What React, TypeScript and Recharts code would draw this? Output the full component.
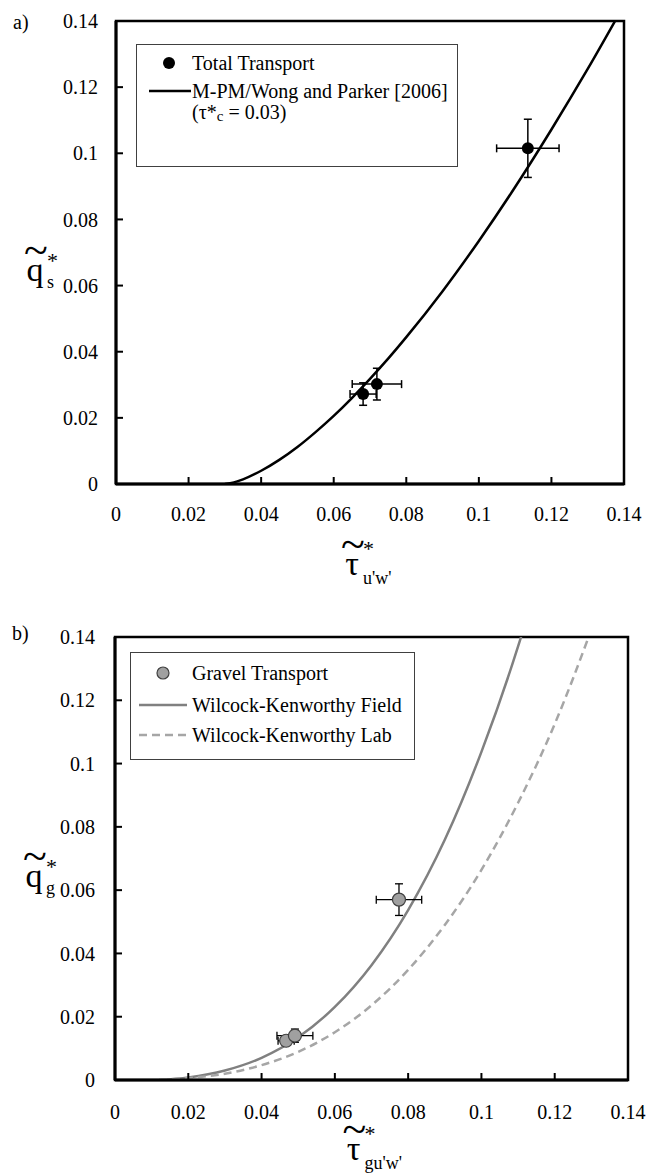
import {
  ComposedChart,
  Line,
  Scatter,
  ErrorBar,
  XAxis,
  YAxis,
  ReferenceArea,
  Legend,
} from "recharts";

const FONT = '"Liberation Serif", "Times New Roman", serif';
const TICKS = [0, 0.02, 0.04, 0.06, 0.08, 0.1, 0.12, 0.14];

// a) measured total transport
const TOTAL_X = [0.0681, 0.0719, 0.1135];
const TOTAL_Y = [0.0272, 0.0302, 0.1015];
const TOTAL_EX = [0.0036, 0.0068, 0.0086];
const TOTAL_EY = [0.0034, 0.0048, 0.0088];

// a) M-PM / Wong and Parker [2006] curve
const MPM_X = [0.03, 0.0325, 0.035, 0.04, 0.045, 0.05, 0.055, 0.06, 0.065, 0.07, 0.075, 0.08, 0.09, 0.1, 0.11, 0.12, 0.13, 0.14];
const MPM_Y = [0, 0.0005, 0.0014, 0.004, 0.0073, 0.0112, 0.0157, 0.0206, 0.026, 0.0318, 0.0379, 0.0444, 0.0583, 0.0735, 0.0898, 0.1072, 0.1255, 0.1448];

// b) measured gravel transport
const GRAVEL_X = [0.0467, 0.0491, 0.0775];
const GRAVEL_Y = [0.0124, 0.014, 0.057];
const GRAVEL_EX = [0.0022, 0.0049, 0.0062];
const GRAVEL_EY = [0.0014, 0.0021, 0.005];

// b) Wilcock-Kenworthy curves
const FIELD_X = [0.012, 0.02, 0.03, 0.04, 0.05, 0.06, 0.07, 0.08, 0.09, 0.1, 0.11, 0.12];
const FIELD_Y = [0, 0.0008, 0.003, 0.007, 0.0135, 0.0231, 0.0363, 0.0537, 0.0759, 0.1037, 0.137, 0.177];
const LAB_X = [0.012, 0.02, 0.03, 0.04, 0.05, 0.06, 0.07, 0.08, 0.09, 0.1, 0.11, 0.12, 0.13, 0.14];
const LAB_Y = [0, 0.0006, 0.002, 0.0047, 0.0089, 0.0151, 0.0236, 0.0348, 0.049, 0.0664, 0.0876, 0.1125, 0.1424, 0.176];

const toLine = (xs: number[], ys: number[]) => xs.map((x, i) => ({ x, y: ys[i] }));
const toMeasured = (xs: number[], ys: number[], ex: number[], ey: number[]) =>
  xs.map((x, i) => ({ x, y: ys[i], ex: ex[i], ey: ey[i] }));

const tickStyle = { fill: "#000", fontSize: 20, fontFamily: FONT };

// q~ with subscript and star, one text element
function YTitle({ viewBox, sub }: any) {
  const { x, y, width, height } = viewBox;
  const cx = x + width - 81;
  const base = y + height / 2 + 28;
  return (
    <text fontFamily={FONT} fill="#000">
      <tspan x={cx + 1} y={base - 16} fontSize={44} textAnchor="middle">~</tspan>
      <tspan x={cx} y={base} fontSize={34} textAnchor="middle">q</tspan>
      <tspan x={cx + 12} y={base - 13} fontSize={22}>*</tspan>
      <tspan x={cx + 12} y={base + 7} fontSize={18}>{sub}</tspan>
    </text>
  );
}

function XTitle({ viewBox, sub, dy }: any) {
  const { x, y, width } = viewBox;
  const cx = x + width / 2 - 18;
  const base = y + dy;
  return (
    <text fontFamily={FONT} fill="#000">
      <tspan x={cx + 1} y={base - 16} fontSize={44} textAnchor="middle">~</tspan>
      <tspan x={cx} y={base} fontSize={34} textAnchor="middle">τ</tspan>
      <tspan x={cx + 11} y={base - 19} fontSize={22}>*</tspan>
      <tspan x={cx + 11} y={base + 9} fontSize={18}>{sub}</tspan>
    </text>
  );
}

const boxStyle = {
  position: "relative" as const,
  boxSizing: "border-box" as const,
  border: "1.5px solid #404040",
  background: "#fff",
  fontFamily: FONT,
  fontSize: 20,
  color: "#000",
};

function Row({ top, left, children }: any) {
  return (
    <div style={{ position: "absolute", top: top - 12, left, height: 24, lineHeight: "24px", whiteSpace: "nowrap" }}>
      {children}
    </div>
  );
}

function Marker({ top, children }: any) {
  return (
    <svg style={{ position: "absolute", left: 0, top: top - 10 }} width={64} height={20}>
      {children}
    </svg>
  );
}

function LegendA() {
  return (
    <div style={{ ...boxStyle, width: 322, height: 123 }}>
      <Marker top={18}><circle cx={32} cy={10} r={6} fill="#000" /></Marker>
      <Row top={18} left={55}>Total Transport</Row>
      <Marker top={46}><line x1={12} x2={54} y1={10} y2={10} stroke="#000" strokeWidth={2.5} /></Marker>
      <Row top={46} left={55}>M-PM/Wong and Parker [2006]</Row>
      <Row top={67} left={55}>
        (τ*<span style={{ fontSize: "0.75em", verticalAlign: "-0.1em" }}>c</span> = 0.03)
      </Row>
    </div>
  );
}

function LegendB() {
  return (
    <div style={{ ...boxStyle, width: 285, height: 108 }}>
      <Marker top={20}><circle cx={32} cy={10} r={6} fill="#a0a0a0" stroke="#404040" strokeWidth={1.2} /></Marker>
      <Row top={20} left={61}>Gravel Transport</Row>
      <Marker top={52}><line x1={8} x2={56} y1={10} y2={10} stroke="#808080" strokeWidth={2.5} /></Marker>
      <Row top={52} left={61}>Wilcock-Kenworthy Field</Row>
      <Marker top={82}><line x1={8} x2={56} y1={10} y2={10} stroke="#a6a6a6" strokeWidth={2.5} strokeDasharray="8 5" /></Marker>
      <Row top={82} left={61}>Wilcock-Kenworthy Lab</Row>
    </div>
  );
}

const blackDot = (p: any) => <circle cx={p.cx} cy={p.cy} r={6} fill="#000" />;
const grayDot = (p: any) => <circle cx={p.cx} cy={p.cy} r={6.5} fill="#a0a0a0" stroke="#404040" strokeWidth={1.2} />;

function axes(sub: string, xsub: string, tickMarginY: number, tickMarginX: number, titleDy: number) {
  return [
    <XAxis
      key="x"
      type="number"
      dataKey="x"
      domain={[0, 0.14]}
      ticks={TICKS}
      interval={0}
      allowDataOverflow
      height={60}
      tickSize={-7}
      tickMargin={tickMarginX}
      tick={tickStyle}
      tickFormatter={(v: number) => String(v)}
      tickLine={{ stroke: "#000", strokeWidth: 2 }}
      axisLine={{ stroke: "#000", strokeWidth: 3 }}
      label={{ content: (p: any) => <XTitle {...p} sub={xsub} dy={titleDy} /> }}
    />,
    <YAxis
      key="y"
      type="number"
      dataKey="y"
      domain={[0, 0.14]}
      ticks={TICKS}
      interval={0}
      allowDataOverflow
      width={60}
      tickSize={-7}
      tickMargin={tickMarginY}
      tick={tickStyle}
      tickFormatter={(v: number) => String(v)}
      tickLine={{ stroke: "#000", strokeWidth: 2 }}
      axisLine={{ stroke: "#000", strokeWidth: 3 }}
      label={{ content: (p: any) => <YTitle {...p} sub={sub} /> }}
    />,
  ];
}

function ChartA() {
  return (
    <ComposedChart width={650} height={600} margin={{ top: 21, right: 26, bottom: 56, left: 56 }}>
      <ReferenceArea x1={0} x2={0.14} y1={0} y2={0.14} fill="none" stroke="#000" strokeWidth={2.5} />
      {axes("s", "u'w'", 25, 30, 91)}
      <Line
        data={toLine(MPM_X, MPM_Y)}
        dataKey="y"
        name="M-PM/Wong and Parker [2006]"
        type="monotone"
        stroke="#000"
        strokeWidth={2.5}
        dot={false}
        activeDot={false}
        isAnimationActive={false}
      />
      <Scatter
        data={toMeasured(TOTAL_X, TOTAL_Y, TOTAL_EX, TOTAL_EY)}
        name="Total Transport"
        shape={blackDot}
        isAnimationActive={false}
      >
        <ErrorBar dataKey="ex" direction="x" width={4} stroke="#000" strokeWidth={1.5} isAnimationActive={false} />
        <ErrorBar dataKey="ey" direction="y" width={4} stroke="#000" strokeWidth={1.5} isAnimationActive={false} />
      </Scatter>
      <Legend
        layout="vertical"
        align="center"
        verticalAlign="middle"
        content={() => <LegendA />}
        wrapperStyle={{ left: 136, top: 44, width: 322, height: 123 }}
      />
    </ComposedChart>
  );
}

function ChartB() {
  return (
    <ComposedChart width={650} height={593} margin={{ top: 57, right: 22, bottom: 33, left: 55 }}>
      <ReferenceArea x1={0} x2={0.14} y1={0} y2={0.14} fill="none" stroke="#000" strokeWidth={2.5} />
      {axes("g", "gu'w'", 27, 32, 80)}
      <Line
        data={toLine(FIELD_X, FIELD_Y)}
        dataKey="y"
        name="Wilcock-Kenworthy Field"
        type="monotone"
        stroke="#808080"
        strokeWidth={2.5}
        dot={false}
        activeDot={false}
        isAnimationActive={false}
      />
      <Line
        data={toLine(LAB_X, LAB_Y)}
        dataKey="y"
        name="Wilcock-Kenworthy Lab"
        type="monotone"
        stroke="#a6a6a6"
        strokeWidth={2.5}
        strokeDasharray="8 5"
        dot={false}
        activeDot={false}
        isAnimationActive={false}
      />
      <Scatter
        data={toMeasured(GRAVEL_X, GRAVEL_Y, GRAVEL_EX, GRAVEL_EY)}
        name="Gravel Transport"
        shape={grayDot}
        isAnimationActive={false}
      >
        <ErrorBar dataKey="ex" direction="x" width={4} stroke="#000" strokeWidth={1.3} isAnimationActive={false} />
        <ErrorBar dataKey="ey" direction="y" width={4} stroke="#000" strokeWidth={1.3} isAnimationActive={false} />
      </Scatter>
      <Legend
        layout="vertical"
        align="center"
        verticalAlign="middle"
        content={() => <LegendB />}
        wrapperStyle={{ left: 130, top: 72, width: 285, height: 108 }}
      />
    </ComposedChart>
  );
}

const panelLabel = { position: "absolute" as const, fontFamily: FONT, fontSize: 20, lineHeight: "24px" };

export default function App() {
  return (
    <div style={{ position: "absolute", left: 0, top: 0, width: 650, height: 1173, background: "#fff" }}>
      <div style={{ ...panelLabel, left: 13, top: 10 }}>a)</div>
      <div style={{ position: "absolute", left: 0, top: 0 }}>
        <ChartA />
      </div>
      <div style={{ ...panelLabel, left: 12, top: 621 }}>b)</div>
      <div style={{ position: "absolute", left: 0, top: 580 }}>
        <ChartB />
      </div>
    </div>
  );
}
